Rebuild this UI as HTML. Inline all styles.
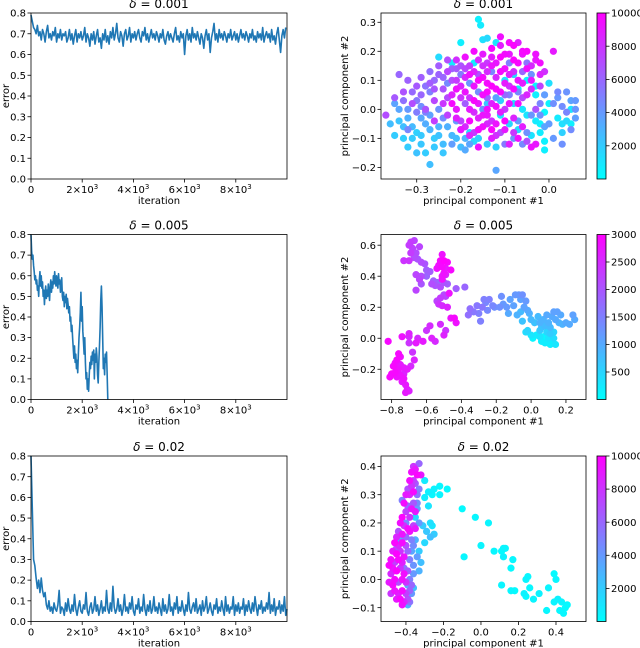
<!DOCTYPE html>
<html><head><meta charset="utf-8"><style>
html,body{margin:0;padding:0;background:#fff;}
svg{display:block;font-family:"DejaVu Sans","Liberation Sans",sans-serif;}
</style></head><body>
<svg id="fig" width="640" height="648" viewBox="0 0 640 648" xmlns="http://www.w3.org/2000/svg"></svg>
<script>
// ---------- data ----------
const errStep1 = 50;
const err1 = [0.79,0.76,0.73,0.72,0.70,0.74,0.69,0.71,0.67,0.72,0.70,0.66,0.71,0.74,0.68,0.70,0.67,0.71,0.69,0.73,0.66,0.70,0.68,0.72,0.67,0.70,0.69,0.71,0.66,0.68,0.72,0.67,0.70,0.65,0.69,0.72,0.66,0.70,0.68,0.71,
0.67,0.69,0.73,0.66,0.70,0.68,0.64,0.70,0.67,0.71,0.65,0.69,0.72,0.66,0.68,0.63,0.70,0.67,0.72,0.66,0.69,0.65,0.71,0.68,0.73,0.67,0.70,0.75,0.68,0.66,0.71,0.69,0.64,0.70,0.72,0.67,0.69,0.73,0.66,0.70,
0.68,0.71,0.67,0.70,0.72,0.68,0.66,0.71,0.69,0.73,0.67,0.70,0.66,0.69,0.72,0.68,0.70,0.67,0.71,0.69,0.66,0.70,0.68,0.72,0.67,0.65,0.69,0.71,0.67,0.70,0.68,0.66,0.70,0.73,0.67,0.69,0.66,0.71,0.68,0.70,
0.60,0.69,0.72,0.67,0.70,0.66,0.73,0.68,0.70,0.67,0.71,0.68,0.65,0.70,0.68,0.63,0.69,0.72,0.67,0.70,0.61,0.68,0.71,0.75,0.67,0.70,0.66,0.72,0.68,0.70,0.67,0.71,0.69,0.66,0.70,0.68,0.72,0.67,0.69,0.71,
0.67,0.70,0.66,0.69,0.72,0.68,0.70,0.67,0.71,0.69,0.66,0.70,0.68,0.72,0.67,0.69,0.66,0.71,0.68,0.70,0.67,0.73,0.66,0.69,0.71,0.68,0.70,0.66,0.72,0.67,0.69,0.65,0.70,0.73,0.67,0.61,0.69,0.72,0.68,0.73];
const errStep2 = 25;
const err2 = [0.80,0.72,0.68,0.70,0.65,0.62,0.58,0.60,0.56,0.58,0.53,0.55,0.50,0.58,0.62,0.55,0.60,0.54,0.57,0.50,0.53,0.46,0.52,0.55,0.49,0.53,0.50,0.56,0.52,0.48,0.55,0.58,0.52,0.57,0.54,0.60,0.56,0.62,0.58,0.55,0.60,0.57,0.54,0.61,0.56,0.58,0.52,0.55,0.59,0.50,
0.48,0.52,0.45,0.50,0.47,0.51,0.44,0.49,0.46,0.42,0.45,0.38,0.40,0.33,0.36,0.30,0.25,0.20,0.26,0.18,
0.22,0.15,0.19,0.13,0.22,0.30,0.35,0.42,0.52,0.38,0.45,0.33,0.28,0.22,0.30,0.18,0.10,0.13,0.05,0.10,
0.04,0.12,0.18,0.15,0.21,0.17,0.23,0.19,0.24,0.10,0.22,0.18,0.25,0.21,0.12,0.08,0.18,0.26,0.35,0.48,
0.55,0.45,0.30,0.15,0.20,0.12,0.22,0.18,0.23,0.12,0.0];
const errStep3 = 50;
const err3 = [0.80,0.55,0.30,0.27,0.21,0.16,0.20,0.14,0.21,0.15,0.12,0.14,0.08,0.06,0.10,0.05,0.07,0.04,0.09,0.06,
0.05,0.08,0.15,0.04,0.07,0.06,0.03,0.09,0.05,0.11,0.06,0.04,0.08,0.05,0.13,0.06,0.03,0.07,0.10,0.05,
0.04,0.08,0.06,0.14,0.05,0.03,0.07,0.09,0.04,0.06,0.12,0.05,0.08,0.03,0.06,0.10,0.04,0.07,0.05,0.15,
0.06,0.04,0.09,0.05,0.17,0.07,0.04,0.06,0.11,0.05,0.08,0.03,0.06,0.13,0.05,0.07,0.04,0.09,0.06,0.12,
0.05,0.03,0.08,0.06,0.11,0.04,0.07,0.05,0.13,0.06,0.03,0.08,0.05,0.10,0.04,0.06,0.12,0.05,0.07,0.04,
0.09,0.06,0.03,0.11,0.05,0.08,0.04,0.06,0.13,0.05,0.07,0.03,0.09,0.06,0.12,0.04,0.07,0.05,0.10,0.06,
0.03,0.08,0.05,0.14,0.06,0.04,0.07,0.09,0.05,0.11,0.04,0.06,0.08,0.03,0.10,0.05,0.07,0.12,0.04,0.06,
0.09,0.05,0.03,0.08,0.06,0.11,0.04,0.07,0.05,0.10,0.06,0.03,0.12,0.05,0.08,0.04,0.07,0.06,0.12,0.03,0.08,
0.05,0.09,0.04,0.07,0.06,0.11,0.03,0.08,0.05,0.10,0.06,0.04,0.09,0.05,0.12,0.07,0.03,0.08,0.06,0.10,
0.04,0.07,0.05,0.09,0.06,0.14,0.04,0.08,0.05,0.11,0.03,0.07,0.06,0.10,0.04,0.08,0.05,0.12,0.03,0.06];
const errYTicks = [0,0.1,0.2,0.3,0.4,0.5,0.6,0.7,0.8];
const errXTicks = [0,2000,4000,6000,8000];
const errXTickMant = ["0","2","4","6","8"];
const titles = ["0.001","0.005","0.02"];

// scatter: [pc1, pc2, iteration(thousands)]
const pca1 = [[-0.35,-0.09,2],[-0.33,-0.06,2.5],[-0.31,-0.1,2],[-0.3,-0.08,1.8],[-0.29,-0.12,2.2],[-0.28,-0.15,2],[-0.27,-0.19,2.5],[-0.3,-0.15,2.4],[-0.26,-0.1,2],[-0.25,-0.06,3],[-0.24,-0.12,2.6],[-0.22,-0.09,2.8],[-0.32,-0.03,3],[-0.34,0.0,3.5],[-0.28,-0.05,3.2],[-0.2,-0.13,2.5],[-0.19,-0.1,3],[-0.26,-0.13,2.1],[-0.33,-0.1,1.9],[-0.36,-0.05,2.6],
[-0.16,0.31,0.5],[-0.155,0.29,0.8],[-0.15,0.24,1.2],[-0.14,0.245,1.5],[-0.2,0.23,0.6],[-0.12,0.23,1],[-0.25,0.18,1.4],[-0.22,0.16,0.9],[-0.17,0.16,0.7],[-0.05,0.1,0.4],[-0.03,0.05,0.6],[-0.01,-0.01,0.3],[0.0,0.02,0.5],[0.02,-0.03,0.8],[0.04,-0.04,1.5],[0.05,0.0,1],[-0.02,-0.08,0.7],[-0.01,-0.14,0.6],[-0.04,-0.09,1.1],[-0.06,0.0,0.9],[-0.08,0.02,1.3],[-0.09,-0.05,1.6],[-0.11,-0.02,1.2],[-0.12,-0.13,1.8],[-0.14,-0.12,2],[-0.18,-0.08,1.5],[-0.17,-0.11,1.7],[-0.03,0.08,0.4],[0.0,0.09,1.2],[-0.02,-0.05,0.5],[0.03,-0.08,1.8],
[0.02,0.04,4],[0.03,0.01,4.5],[0.04,0.06,4.2],[0.06,0.03,4],[0.06,-0.03,3.8],[0.05,-0.07,4.5],[0.03,-0.12,4.3],[0.01,-0.1,4],[-0.01,-0.06,3.5],[-0.02,0.02,4.8],[-0.04,-0.02,4.1],[-0.05,-0.08,4.4],[-0.06,-0.12,4.6],[-0.07,-0.04,3.9],[-0.08,-0.1,4.2],[-0.09,0.05,5],[-0.1,-0.12,5.2],[-0.12,-0.21,3.5],[-0.07,0.06,4.7],[-0.05,0.16,5.5],[-0.04,0.12,4.3],[0.02,0.06,4.6],[-0.09,0.16,5],[-0.06,0.13,6],
[-0.2,-0.07,4],[-0.22,-0.12,3.8],[-0.18,-0.12,3.5],[-0.16,0.06,4.5],[-0.25,0.0,4.2],[-0.27,0.06,5],[-0.23,0.09,4.6],[-0.2,0.12,5.2],[-0.18,0.09,4.1],[-0.13,0.13,4.8],[-0.12,0.04,3.6],[-0.15,0.0,4.4],[-0.28,-0.01,4.9],[-0.3,0.03,5.3],[-0.32,-0.07,4.7],
[-0.37,-0.02,7],[-0.35,0.04,6.5],[-0.34,0.12,6],[-0.32,0.1,6.2],[-0.33,0.06,6.8],[-0.31,0.02,7],[-0.3,0.08,6.5],[-0.29,0.05,6],[-0.28,0.0,6.7],[-0.27,0.09,6.4],[-0.26,0.03,7.2],[-0.25,0.12,6.1],[-0.24,0.07,6.8],[-0.23,-0.02,7.5],[-0.22,0.1,7],[-0.21,0.14,6.5],[-0.2,0.04,8],[-0.2,-0.04,7.4],[-0.19,0.11,8.5],[-0.18,0.0,9],[-0.18,0.15,7.6],[-0.17,0.08,9.2],[-0.16,-0.03,8.8],[-0.16,0.12,6.9],[-0.15,0.05,9.5],[-0.15,0.15,8.2],[-0.14,-0.02,9.1],[-0.14,0.09,9.6],[-0.13,0.02,8.7],[-0.13,0.18,9],[-0.12,0.11,8.4],[-0.12,-0.05,9.3],[-0.11,0.06,9.8],[-0.11,0.22,8.9],[-0.1,0.14,9.4],[-0.1,0.0,7.8],[-0.09,0.23,9.7],[-0.09,0.08,8.1],[-0.08,0.17,9.9],[-0.08,-0.03,8.6],[-0.07,0.1,9.2],[-0.07,0.23,8.8],[-0.06,0.04,7.2],[-0.05,0.14,9.5],[-0.04,0.07,8.3],[-0.03,0.17,9.1],[-0.03,0.0,6.8],[0.01,0.2,9],[-0.02,0.12,8.6],[-0.21,0.0,9.1],[-0.19,-0.06,8.4],[-0.17,-0.08,7.7],[-0.15,-0.06,9.4],[-0.13,-0.1,8.9],[-0.11,-0.08,7.1],[-0.16,-0.13,9.3],[-0.22,0.05,8.7],[-0.24,0.02,7.9],[-0.26,-0.04,7.6],[-0.23,0.13,7.3],[-0.17,0.2,9.6],[-0.14,0.16,7.9],[-0.21,0.07,9.4],[-0.19,0.02,6.4],[-0.14,0.04,6.1],[-0.1,0.05,5.8],[-0.06,-0.06,8.9],[-0.04,-0.13,9.3],
[-0.34,-0.04,2.3],[-0.31,-0.06,2.7],[-0.29,-0.09,2.1],[-0.27,-0.07,2.9],[-0.25,-0.09,2.4],[-0.23,-0.06,3.1],[-0.21,-0.1,2.6],[-0.24,-0.15,2.2],[-0.32,-0.13,2.0],[-0.29,-0.03,3.4],[-0.33,0.03,5.6],[-0.31,0.06,5.9],[-0.29,0.11,6.3],[-0.27,0.13,5.7],[-0.26,0.07,6.6],[-0.24,0.11,6.0],[-0.23,0.04,7.1],[-0.22,0.14,6.2],[-0.21,0.1,7.7],[-0.2,0.15,6.8],[-0.2,0.08,8.6],[-0.19,0.14,7.3],[-0.19,0.06,9.3],[-0.18,0.12,9.5],[-0.18,0.04,8.1],[-0.17,0.13,8.8],[-0.17,0.03,9.7],[-0.17,-0.01,8.3],[-0.16,0.1,9.9],[-0.16,0.02,9.0],[-0.16,0.17,8.5],[-0.15,0.11,9.6],[-0.15,-0.02,9.2],[-0.15,0.19,9.0],[-0.14,0.06,9.8],[-0.14,0.13,8.4],[-0.14,0.0,9.5],[-0.13,0.08,9.9],[-0.13,0.15,9.3],[-0.13,-0.04,8.2],[-0.12,0.07,9.7],[-0.12,0.16,9.1],[-0.12,0.01,9.4],[-0.11,0.13,9.6],[-0.11,-0.01,8.8],[-0.11,0.18,9.8],[-0.1,0.09,9.0],[-0.1,0.19,9.5],[-0.1,-0.04,9.7],[-0.09,0.12,8.7],[-0.09,0.02,9.2],[-0.09,0.19,9.1],[-0.08,0.07,9.6],[-0.08,0.13,8.2],[-0.07,0.02,9.4],[-0.07,0.16,9.7],[-0.06,0.09,8.9],[-0.06,0.19,9.3],[-0.05,0.05,8.6],[-0.05,0.2,9.8],[-0.04,0.1,9.0],[-0.04,0.15,8.4],[-0.02,0.16,9.5],[-0.02,0.08,7.4],[-0.01,0.13,8.1],[-0.22,0.02,9.6],[-0.21,-0.03,8.9],[-0.2,-0.07,9.2],[-0.18,-0.04,9.8],[-0.18,-0.09,8.6],[-0.16,-0.07,9.6],[-0.14,-0.05,8.4],[-0.13,-0.07,9.9],[-0.12,-0.09,8.1],[-0.1,-0.07,9.0],[-0.08,-0.08,7.9],[-0.09,-0.12,8.8],[-0.07,-0.1,9.5],[-0.05,-0.11,6.9],[-0.03,-0.12,9.1],[-0.25,0.15,6.4],[-0.23,0.17,7.0],[-0.21,0.17,8.2],[-0.19,0.18,9.4],[-0.13,0.21,9.7],[-0.11,0.25,9.4],[-0.08,0.22,9.8],[-0.06,0.2,9.6],[-0.03,0.19,9.3],[-0.28,0.08,5.5],[-0.26,0.1,5.9],[-0.3,-0.01,5.1],[-0.24,-0.03,4.5],[-0.02,-0.02,4.2],[0.0,-0.05,3.9],[0.01,0.02,4.4],[0.04,-0.01,4.8],[0.05,0.03,3.6],[0.06,0.0,4.1],[-0.01,0.05,3.8],[-0.03,-0.04,0.8],[-0.05,-0.02,1.0],[-0.07,-0.07,1.4],[-0.01,-0.11,0.5],[0.03,-0.05,1.2],[0.05,-0.05,0.6],[-0.07,0.07,0.5],[-0.1,0.1,0.9],[-0.08,0.12,1.5],[-0.11,0.03,1.9],[-0.14,0.02,2.2],[-0.16,-0.1,1.8],[-0.19,-0.14,3.3],[-0.21,-0.04,3.9],[-0.29,0.01,4.4],[-0.35,0.02,3.6],[-0.32,0.0,4.0],[-0.27,-0.02,3.7]];
const pca2 = [[-0.69,0.62,2.3],[-0.67,0.63,2.2],[-0.7,0.6,2.3],[-0.68,0.58,2.2],[-0.66,0.55,2.1],[-0.69,0.55,2.3],[-0.64,0.59,2.2],[-0.67,0.52,2.1],[-0.7,0.5,2.4],[-0.65,0.51,2.0],[-0.63,0.49,2.1],[-0.61,0.48,2.0],[-0.73,0.5,2.4],[-0.6,0.44,1.9],[-0.58,0.43,1.9],[-0.6,0.4,1.8],[-0.63,0.4,2.1],[-0.66,0.41,2.2],[-0.64,0.38,2.2],[-0.66,0.31,2.2],[-0.63,0.35,2.0],[-0.56,0.37,1.9],[-0.54,0.36,1.8],[-0.57,0.35,2.1],[-0.55,0.34,2.0],
[-0.51,0.54,2.8],[-0.52,0.5,2.9],[-0.5,0.5,3.0],[-0.48,0.49,2.9],[-0.53,0.47,2.8],[-0.51,0.46,2.9],[-0.49,0.45,2.7],[-0.54,0.45,2.8],[-0.46,0.44,2.9],[-0.5,0.42,2.8],[-0.51,0.4,2.7],[-0.49,0.41,2.6],[-0.51,0.38,2.8],
[-0.5,0.36,2.0],[-0.48,0.35,1.9],[-0.52,0.33,2.1],[-0.47,0.29,2.8],[-0.49,0.27,2.2],[-0.52,0.26,2.3],[-0.53,0.22,2.4],[-0.51,0.21,2.5],[-0.48,0.2,2.6],[-0.54,0.24,2.2],[-0.5,0.28,2.1],[-0.46,0.13,2.8],[-0.44,0.13,2.9],[-0.43,0.1,2.8],[-0.52,0.09,2.5],[-0.49,0.05,2.4],[-0.5,0.02,2.6],[-0.58,0.08,2.5],[-0.6,0.05,2.4],[-0.57,0.0,2.6],[-0.55,-0.02,2.5],[-0.62,-0.02,2.7],[-0.65,0.0,2.5],[-0.66,-0.03,2.7],[-0.7,0.03,2.6],[-0.7,0.01,2.5],[-0.74,0.01,2.8],[-0.7,-0.03,2.4],
[-0.82,-0.02,2.9],[-0.76,-0.1,2.9],[-0.75,-0.12,2.8],[-0.77,-0.14,2.9],[-0.78,-0.16,2.8],[-0.75,-0.17,2.7],[-0.79,-0.18,2.9],[-0.76,-0.2,2.8],[-0.73,-0.19,2.7],[-0.8,-0.23,2.9],[-0.78,-0.22,2.9],[-0.77,-0.25,2.8],[-0.75,-0.24,2.8],[-0.73,-0.23,2.6],[-0.71,-0.2,2.7],[-0.69,-0.18,2.5],[-0.67,-0.14,2.6],[-0.68,-0.09,2.4],[-0.81,-0.25,2.9],[-0.74,-0.28,2.7],[-0.72,-0.3,2.7],[-0.71,-0.33,2.6],[-0.72,-0.35,2.7],[-0.7,-0.34,2.6],[-0.73,-0.26,2.8],
[-0.43,0.32,1.9],[-0.38,0.33,1.8],[-0.35,0.19,1.7],[-0.33,0.17,1.6],[-0.36,0.15,1.7],[-0.31,0.21,1.6],[-0.3,0.16,1.5],[-0.29,0.11,1.5],[-0.28,0.2,1.6],[-0.27,0.25,1.5],[-0.26,0.23,1.4],[-0.25,0.18,1.4],[-0.24,0.25,1.5],[-0.22,0.21,1.4],[-0.21,0.2,1.3],[-0.18,0.2,1.3],[-0.17,0.27,1.3],[-0.16,0.22,1.2],[-0.14,0.2,1.2],[-0.12,0.25,1.1],[-0.1,0.21,1.1],[-0.09,0.28,1.2],[-0.07,0.28,1.2],[-0.06,0.25,1.1],[-0.05,0.28,1.3],[-0.04,0.2,1.1],[-0.03,0.24,1.2],[-0.02,0.18,1.0],[-0.01,0.16,0.9],[-0.13,0.16,1.0],
[0.0,0.12,0.8],[0.02,0.1,0.7],[0.04,0.14,0.8],[0.05,0.1,0.9],[0.06,0.07,0.7],[0.07,0.12,0.9],[0.08,0.08,0.8],[0.09,0.15,1.0],[0.1,0.1,0.9],[0.11,0.07,0.8],[0.12,0.14,1.0],[0.13,0.17,1.1],[0.14,0.12,1.0],[0.15,0.17,1.1],[0.16,0.1,0.9],[0.17,0.15,1.0],[0.18,0.09,0.9],[0.2,0.1,1.0],[0.22,0.09,1.0],[0.24,0.15,1.1],[0.25,0.12,1.0],[-0.05,0.11,0.7],[-0.02,0.05,0.5],[0.0,0.02,0.3],[0.01,0.0,0.1],[0.03,0.02,0.2],[0.05,0.01,0.3],[0.06,-0.02,0.2],[0.07,0.01,0.1],[0.08,-0.03,0.2],[0.09,-0.01,0.1],[0.1,0.0,0.3],[0.11,-0.04,0.2],[0.12,-0.02,0.1],[0.13,0.0,0.4],[0.14,-0.04,0.3],[0.09,0.04,0.5],[0.11,0.03,0.6],[0.13,0.04,0.5],[-0.03,0.04,0.4],[0.05,0.05,0.6],[-0.08,0.15,0.9],[-0.06,0.17,0.8]];
const pca3 = [[0.44,-0.12,0.3],[0.45,-0.1,0.2],[0.43,-0.08,0.4],[0.42,-0.11,0.3],[0.46,-0.09,0.2],[0.41,-0.07,0.5],[0.39,-0.08,0.4],[0.35,-0.11,0.3],[0.36,-0.03,0.4],[0.4,0.0,0.3],[0.39,0.02,0.2],[0.31,-0.05,0.5],[0.28,-0.07,0.4],[0.26,-0.03,0.3],[0.24,-0.06,0.2],[0.24,0.0,0.4],[0.23,-0.05,0.5],[0.25,0.01,0.3],[0.18,-0.04,0.2],[0.16,-0.04,0.3],[0.11,-0.02,0.4],[0.17,0.07,0.3],[0.16,0.04,0.2],[0.12,0.11,0.4],[0.11,0.1,0.2],[0.13,0.11,0.3],[0.12,0.08,0.5],[0.07,0.1,0.3],[0.0,0.12,0.4],[-0.09,0.08,0.3],[-0.1,0.25,0.2],[-0.03,0.22,0.3],[0.04,0.2,0.4],[-0.18,0.32,0.2],[-0.22,0.33,0.3],[-0.22,0.3,0.4],[-0.25,0.32,0.5],[-0.26,0.3,0.3],[-0.28,0.31,0.6],[-0.3,0.35,0.8],[-0.28,0.26,1.0],[-0.27,0.2,1.2],[-0.26,0.19,0.9],[-0.25,0.16,2],[-0.27,0.15,2.5],[-0.29,0.17,2.2],[-0.3,0.13,1.5],[-0.33,0.1,2],[-0.32,0.06,2.5],[-0.33,0.03,3],[-0.36,-0.03,2.5],[-0.39,-0.09,3],[-0.35,0.22,1.5],[-0.31,0.19,2],[-0.3,0.29,0.7],
[-0.34,0.25,3.5],[-0.33,0.2,4],[-0.35,0.14,3],[-0.34,0.08,3.8],[-0.36,0.05,4.2],[-0.37,-0.05,4],[-0.39,-0.02,3.5],[-0.33,0.32,5],[-0.4,0.2,4.5],[-0.43,0.14,4],[-0.41,0.04,5.5],[-0.45,0.11,6.5],
[-0.33,0.41,6],[-0.35,0.39,9],[-0.37,0.38,9.5],[-0.36,0.4,8],[-0.34,0.37,9.8],[-0.32,0.37,9],
[-0.38,0.35,9.5],[-0.37,0.33,8],[-0.36,0.31,9.7],[-0.39,0.32,7],[-0.35,0.34,6.5],[-0.4,0.3,9],[-0.34,0.3,5.5],[-0.38,0.3,8.5],[-0.36,0.35,7.5],
[-0.41,0.27,9.6],[-0.39,0.26,6],[-0.37,0.25,9.2],[-0.4,0.24,7.5],[-0.42,0.22,9.9],[-0.38,0.22,8],[-0.36,0.27,6.5],[-0.35,0.24,9],[-0.42,0.28,5],[-0.34,0.27,4.5],
[-0.43,0.2,9.5],[-0.41,0.19,8],[-0.39,0.18,9.7],[-0.44,0.17,7],[-0.42,0.16,9.2],[-0.4,0.15,6],[-0.38,0.17,9.4],[-0.36,0.19,7.5],[-0.45,0.15,8.5],[-0.37,0.14,5],[-0.35,0.18,9],
[-0.46,0.13,9.8],[-0.44,0.12,8.5],[-0.42,0.13,9.6],[-0.4,0.12,7],[-0.47,0.1,9],[-0.45,0.09,9.9],[-0.43,0.1,8],[-0.41,0.08,9.3],[-0.39,0.1,6],[-0.48,0.07,9.5],[-0.46,0.06,7.5],[-0.44,0.07,9.7],[-0.42,0.06,8.8],[-0.38,0.07,5],[-0.36,0.12,4.5],[-0.37,0.1,3.5],
[-0.49,0.05,9.8],[-0.47,0.04,9.2],[-0.45,0.03,9.9],[-0.43,0.04,8],[-0.41,0.02,9.5],[-0.39,0.03,6.5],[-0.48,0.02,8.5],[-0.46,0.0,9.6],[-0.44,-0.01,7],[-0.42,0.0,9.4],[-0.4,-0.01,8.2],[-0.38,0.0,5],[-0.49,-0.01,9],[-0.47,-0.02,9.7],[-0.36,0.02,4],[-0.37,-0.02,6],
[-0.46,-0.04,9.3],[-0.44,-0.05,8.8],[-0.42,-0.04,9.6],[-0.4,-0.05,7.5],[-0.38,-0.04,6.2],[-0.45,-0.07,9],[-0.43,-0.07,9.8],[-0.41,-0.08,8.5],[-0.39,-0.07,7],[-0.42,-0.09,9.4],[-0.38,-0.08,5.5],[-0.48,-0.05,8]];

const sc1XTicks=[-0.3,-0.2,-0.1,0.0], sc1YTicks=[-0.2,-0.1,0.0,0.1,0.2,0.3], cb1Ticks=[2000,4000,6000,8000,10000];
const sc2XTicks=[-0.8,-0.6,-0.4,-0.2,0.0,0.2], sc2YTicks=[-0.2,0.0,0.2,0.4,0.6], cb2Ticks=[500,1000,1500,2000,2500,3000];
const sc3XTicks=[-0.4,-0.2,0.0,0.2,0.4], sc3YTicks=[-0.1,0.0,0.1,0.2,0.3,0.4], cb3Ticks=[2000,4000,6000,8000,10000];

// ---------- drawing ----------
const NS="http://www.w3.org/2000/svg";
const svg=document.getElementById('fig');
function mk(tag,attrs,parent,txt){const e=document.createElementNS(NS,tag);for(const k in attrs)e.setAttribute(k,attrs[k]);if(txt!==undefined)e.textContent=txt;(parent||svg).appendChild(e);return e;}
function lin(d0,d1,r0,r1){return v=>r0+(v-d0)/(d1-d0)*(r1-r0);}
function cool(t){t=Math.max(0,Math.min(1,t));return `rgb(${Math.round(255*t)},${Math.round(255*(1-t))},255)`;}
function fmt(v,dec){const s=v.toFixed(dec);return s.replace('-','\u2212');}

const rows=[[13,179],[234.5,399.5],[456,621.5]];
const L={x0:31,x1:287}, R={x0:381,x1:586}, CB={x0:597,x1:606};

function title(cx,y,val,g){
  const t=mk('text',{x:cx,y:y,'text-anchor':'middle','font-size':'12'},g);
  
  
  mk('tspan',{'font-style':'italic'},t,'\u03b4');
  mk('tspan',{},t,' = '+val);
}

function errorPanel(i,data,step){
  const [top,bot]=rows[i];
  const g=mk('g',{});
  
  
  const sx=lin(0,10000,L.x0,L.x1), sy=lin(0,0.8,bot,top);
  let d='';
  data.forEach((v,k)=>{d+=(k?'L':'M')+sx(k*step).toFixed(2)+','+sy(v).toFixed(2);});
  const p=mk('path',{d:d,fill:'none',stroke:'#1f77b4','stroke-width':'1.6','stroke-linejoin':'round'},g);
  
  
  mk('rect',{x:L.x0,y:top,width:L.x1-L.x0,height:bot-top,fill:'none',stroke:'#000','stroke-width':'0.8'},g);
  errYTicks.forEach(v=>{const y=sy(v);mk('line',{x1:L.x0-3.5,x2:L.x0,y1:y,y2:y,stroke:'#000','stroke-width':'0.8'},g);
    const t=mk('text',{x:L.x0-5,y:y+3.6,'text-anchor':'end','font-size':'10'},g,v.toFixed(1));
    });
  errXTicks.forEach((v,k)=>{const x=sx(v);mk('line',{x1:x,x2:x,y1:bot,y2:bot+3.5,stroke:'#000','stroke-width':'0.8'},g);
    const t=mk('text',{x:x,y:bot+14,'text-anchor':'middle','font-size':'10'},g);
    
    if(v===0){t.textContent='0';}else{mk('tspan',{},t,errXTickMant[k]+'\u00d710');mk('tspan',{'font-size':'7',dy:'-4'},t,'3');}});
  const xl=mk('text',{x:(L.x0+L.x1)/2,y:bot+25,'text-anchor':'middle','font-size':'10'},g,'iteration');
  
  const yl=mk('text',{x:0,y:0,'text-anchor':'middle','font-size':'10',transform:`translate(9,${(top+bot)/2}) rotate(-90)`},g,'error');
  
  title((L.x0+L.x1)/2,top-5,titles[i],g);
}

function scatterPanel(i,pts,xd,yd,xt,yt,cmax,cbt,xdec,ydec){
  const [top,bot]=rows[i];
  const g=mk('g',{});
  
  
  const sx=lin(xd[0],xd[1],R.x0,R.x1), sy=lin(yd[0],yd[1],bot,top);
  const clip='clip'+i;
  const cp=mk('clipPath',{id:clip},g);mk('rect',{x:R.x0,y:top,width:R.x1-R.x0,height:bot-top},cp);
  const pg=mk('g',{'clip-path':`url(#${clip})`},g);
  pts.slice().sort((a,b)=>a[2]-b[2]).forEach(p=>{
    const c=mk('circle',{cx:sx(p[0]).toFixed(2),cy:sy(p[1]).toFixed(2),r:3.6,fill:cool(p[2]*1000/cmax)},pg);
    
    
  });
  mk('rect',{x:R.x0,y:top,width:R.x1-R.x0,height:bot-top,fill:'none',stroke:'#000','stroke-width':'0.8'},g);
  xt.forEach(v=>{const x=sx(v);mk('line',{x1:x,x2:x,y1:bot,y2:bot+3.5,stroke:'#000','stroke-width':'0.8'},g);
    const t=mk('text',{x:x,y:bot+14,'text-anchor':'middle','font-size':'10'},g,fmt(v,xdec));
    });
  yt.forEach(v=>{const y=sy(v);mk('line',{x1:R.x0-3.5,x2:R.x0,y1:y,y2:y,stroke:'#000','stroke-width':'0.8'},g);
    const t=mk('text',{x:R.x0-5,y:y+3.6,'text-anchor':'end','font-size':'10'},g,fmt(v,ydec));
    });
  const xl=mk('text',{x:(R.x0+R.x1)/2,y:bot+25,'text-anchor':'middle','font-size':'10'},g,'principal component #1');
  
  const yl=mk('text',{x:0,y:0,'text-anchor':'middle','font-size':'10',transform:`translate(348,${(top+bot)/2}) rotate(-90)`},g,'principal component #2');
  
  title((R.x0+R.x1)/2,top-5,titles[i],g);
  const gid='grad'+i;
  const lg=mk('linearGradient',{id:gid,x1:0,y1:1,x2:0,y2:0},g);
  mk('stop',{offset:'0','stop-color':'rgb(0,255,255)'},lg);mk('stop',{offset:'1','stop-color':'rgb(255,0,255)'},lg);
  const cb=mk('rect',{x:CB.x0,y:top,width:CB.x1-CB.x0,height:bot-top,fill:`url(#${gid})`,stroke:'#000','stroke-width':'0.8'},g);
  
  const cy=lin(0,cmax,bot,top);
  cbt.forEach(v=>{const y=cy(v);mk('line',{x1:CB.x1,x2:CB.x1+3.5,y1:y,y2:y,stroke:'#000','stroke-width':'0.8'},g);
    const t=mk('text',{x:CB.x1+5,y:y+3.6,'font-size':'10'},g,String(v));
    });
}

errorPanel(0,err1,errStep1);
errorPanel(1,err2,errStep2);
errorPanel(2,err3,errStep3);
scatterPanel(0,pca1,[-0.381,0.084],[-0.24,0.332],sc1XTicks,sc1YTicks,10000,cb1Ticks,1,1);
scatterPanel(1,pca2,[-0.861,0.315],[-0.395,0.669],sc2XTicks,sc2YTicks,3000,cb2Ticks,1,1);
scatterPanel(2,pca3,[-0.533,0.56],[-0.149,0.437],sc3XTicks,sc3YTicks,10000,cb3Ticks,1,1);
</script>
</body></html>
